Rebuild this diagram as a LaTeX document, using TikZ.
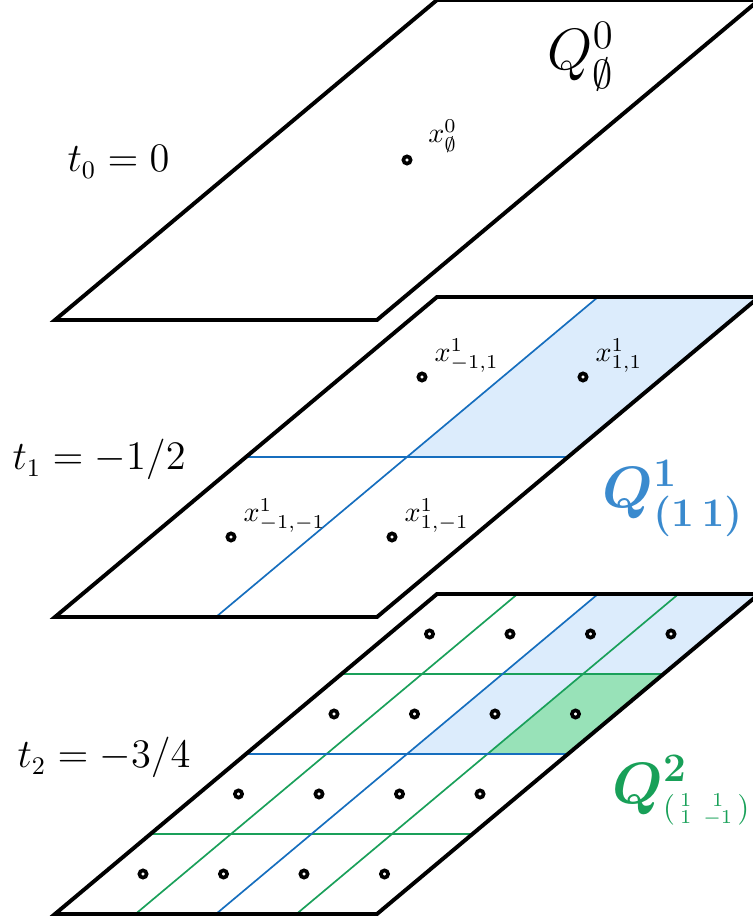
\documentclass[tikz,border=0pt]{standalone}
\usepackage{amsmath,bm}
\definecolor{lineblue}{RGB}{22,110,190}
\definecolor{fillblue}{RGB}{220,236,252}
\definecolor{textblue}{RGB}{58,138,206}
\definecolor{linegreen}{RGB}{26,160,90}
\definecolor{fillgreen}{RGB}{152,226,184}
\definecolor{textgreen}{RGB}{24,160,88}
\tikzset{
  plate/.style={line width=1.4pt},
  gridblue/.style={lineblue,line width=0.6pt},
  gridgreen/.style={linegreen,line width=0.6pt},
  plategrid/.style={x={(1.00625cm,0cm)},y={(1.19375cm,1cm)}},
  dotc/.style={circle,draw,line width=1.3pt,fill=white,inner sep=0pt,minimum size=0.09cm},
  xlab/.style={anchor=base west,inner sep=0pt},
  tlab/.style={anchor=base west,inner sep=0pt,font=\fontsize{13.5}{16}\selectfont},
  qlab/.style={anchor=base west,inner sep=0pt,font=\fontsize{20}{24}\selectfont}
}

\begin{document}
\begin{tikzpicture}
  \useasboundingbox (-0.6875,-0.0875) rectangle (8.725,11.425);

  \begin{scope}[plategrid,yshift=7.425cm]
    \draw[plate] (0,0) -- (4,0) -- (4,4) -- (0,4) -- cycle;
    \node[dotc] (d0) at (2,2) {};
  \end{scope}
  \node[xlab] (l0) at ([xshift=0.26cm,yshift=0.22cm]d0) {$x^0_\emptyset$};

  \begin{scope}[plategrid,yshift=3.7125cm]
    \fill[fillblue] (2,2) -- (4,2) -- (4,4) -- (2,4) -- cycle;
    \draw[gridblue] (2,0) -- (2,4) (0,2) -- (4,2);
    \draw[plate] (0,0) -- (4,0) -- (4,4) -- (0,4) -- cycle;
    \node[dotc] (dmm) at (1,1) {};
    \node[dotc] (dpm) at (3,1) {};
    \node[dotc] (dmp) at (1,3) {};
    \node[dotc] (dpp) at (3,3) {};
  \end{scope}
  \node[xlab] (lmm) at ([xshift=0.15cm,yshift=0.19cm]dmm) {$x^1_{-1,-1}$};
  \node[xlab] (lpm) at ([xshift=0.15cm,yshift=0.19cm]dpm) {$x^1_{1,-1}$};
  \node[xlab] (lmp) at ([xshift=0.15cm,yshift=0.19cm]dmp) {$x^1_{-1,1}$};
  \node[xlab] (lpp) at ([xshift=0.15cm,yshift=0.19cm]dpp) {$x^1_{1,1}$};

  \begin{scope}[plategrid]
    \fill[fillblue] (2,2) -- (4,2) -- (4,4) -- (2,4) -- cycle;
    \fill[fillgreen] (3,2) -- (4,2) -- (4,3) -- (3,3) -- cycle;
    \foreach \k in {1,3}
      \draw[gridgreen] (\k,0) -- (\k,4) (0,\k) -- (4,\k);
    \draw[gridblue] (2,0) -- (2,4) (0,2) -- (4,2);
    \draw[plate] (0,0) -- (4,0) -- (4,4) -- (0,4) -- cycle;
    \foreach \i in {0,...,3}
      \foreach \j in {0,...,3}
        \node[dotc] (c\i\j) at (\i+.5,\j+.5) {};
  \end{scope}

  \node[tlab] (t0) at (0.15,9.275) {$t_0=0$};
  \node[tlab] (t1) at (-0.5375,5.55) {$t_1=-1/2$};
  \node[tlab] (t2) at (-0.475,1.825) {$t_2=-3/4$};
  \node[qlab] (q0) at (6.15,10.55) {$Q^0_\emptyset$};
  \node[qlab,textblue] (q1) at (6.84,5.075) {$\boldsymbol{Q^1_{(1\,1)}}$};
  \node[qlab,textgreen] (q2) at (6.96,1.3875)
    {$\boldsymbol{Q}^{\boldsymbol{2}}_{\mbox{\fontsize{10.5}{12}\selectfont$\left(\begin{smallmatrix}1&\,1\\1&\,-1\end{smallmatrix}\right)$}}$};
\end{tikzpicture}
\end{document}
